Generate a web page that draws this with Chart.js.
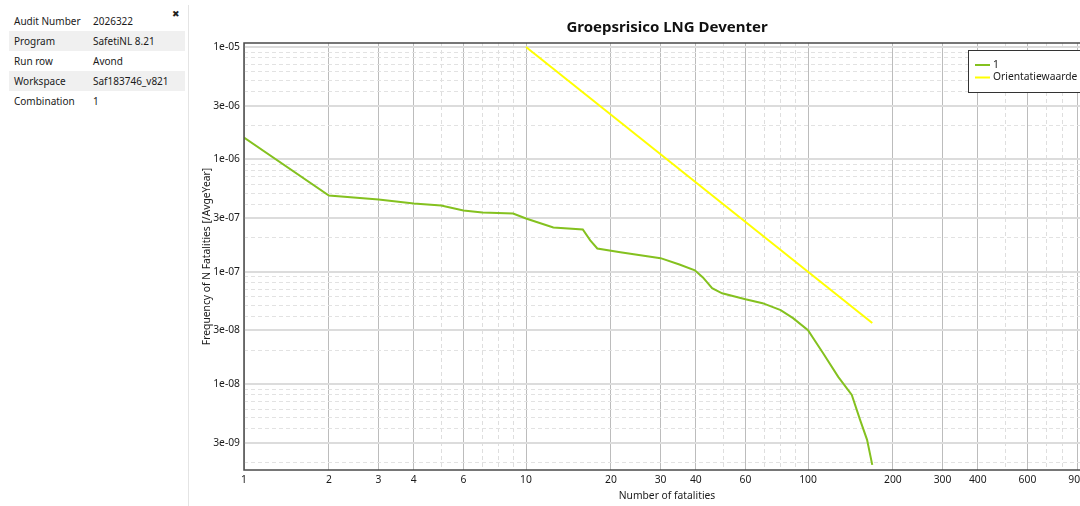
<!DOCTYPE html>
<html>
<head>
<meta charset="utf-8">
<script src="https://cdn.jsdelivr.net/npm/chart.js@4/dist/chart.umd.min.js"></script>
<style>
  html, body { margin: 0; padding: 0; width: 1080px; height: 506px; overflow: hidden; background: #fff; }
  body { position: relative; font-family: "Noto Sans", sans-serif; color: #1a1a1a; }
  #panel { position: absolute; left: 0; top: 0; width: 188px; height: 506px; font-size: 10px; }
  .row { position: absolute; left: 9px; width: 176px; height: 20px; line-height: 20px; }
  .row.alt { background: #f0f0f0; }
  .row .k { position: absolute; left: 5px; }
  .row .v { position: absolute; left: 84px; }
  #close { position: absolute; left: 172px; top: 9px; font-size: 9px; font-family: "DejaVu Sans", sans-serif; color: #222; }
  #sep { position: absolute; left: 188px; top: 5px; width: 1px; height: 501px; background: #e4e4e4; }
  #wrap { position: absolute; left: 190px; top: 0; width: 910px; height: 506px; }
</style>
</head>
<body>
<div id="panel"></div>
<div id="close">✖</div>
<div id="sep"></div>
<div id="wrap"><canvas id="frChart"></canvas></div>
<script>
// side panel info
const infoKeys = ['Audit Number', 'Program', 'Run row', 'Workspace', 'Combination'];
const infoValues = ['2026322', 'SafetiNL 8.21', 'Avond', 'Saf183746_v821', '1'];

// FN curve
const seriesLabels = ['1', 'Orientatiewaarde'];
const fatalitiesN = [1, 2, 3, 4, 5, 6, 7, 9, 10, 12.5, 15.9, 16.9, 17.9, 21.6, 30, 35, 39.7, 42.4, 45.7, 49.6,
                     60, 69, 80, 88.5, 100, 113, 128, 143, 153, 162, 169];
const frequencyN = [1.56e-6, 4.76e-7, 4.39e-7, 4.05e-7, 3.88e-7, 3.51e-7, 3.37e-7, 3.30e-7, 2.98e-7, 2.48e-7,
                    2.38e-7, 1.90e-7, 1.61e-7, 1.49e-7, 1.32e-7, 1.16e-7, 1.03e-7, 8.9e-8, 7.13e-8, 6.43e-8,
                    5.69e-8, 5.25e-8, 4.55e-8, 3.86e-8, 3.02e-8, 1.89e-8, 1.16e-8, 8.0e-9, 4.8e-9, 3.19e-9, 1.91e-9];
const orientN = [10, 169];
const orientF = [1e-5, 3.5e-8];

// ticks
const xLabelTicks = [1, 2, 3, 4, 6, 10, 20, 30, 40, 60, 100, 200, 300, 400, 600, 900];
const xMinorTicks = [5, 7, 8, 9, 50, 70, 80, 90, 500, 700, 800];
const yLabelTicks = [1e-5, 3e-6, 1e-6, 3e-7, 1e-7, 3e-8, 1e-8, 3e-9];
const yMinorTicks = [];
[-9, -8, -7, -6].forEach(function (e) {
    [2, 4, 5, 6, 7, 8, 9].forEach(function (m) { yMinorTicks.push(m * Math.pow(10, e)); });
});

const panel = document.getElementById('panel');
infoKeys.forEach(function (k, i) {
    const row = document.createElement('div');
    row.className = 'row' + (i % 2 === 1 ? ' alt' : '');
    row.style.top = (11 + i * 20) + 'px';
    row.innerHTML = '<span class="k">' + k + '</span><span class="v">' + infoValues[i] + '</span>';
    panel.appendChild(row);
});

function expLabel(v) {
    const e = Math.floor(Math.log10(v) + 1e-9);
    const m = Math.round(v / Math.pow(10, e));
    return m + 'e-' + String(-e).padStart(2, '0');
}

const font11 = { family: '"Noto Sans", sans-serif', size: 10.3 };

// frame round the plot + legend box inside it
const framePlugin = {
    id: 'frame',
    afterDraw(chart) {
        const a = chart.chartArea;
        const c = chart.ctx;
        c.save();
        c.strokeStyle = '#4a4a4a';
        c.lineWidth = 1.5;
        c.strokeRect(a.left, a.top, a.right - a.left, a.bottom - a.top);

        const bx = a.left + 724, by = a.top + 7, bw = 130, bh = 42;
        c.fillStyle = '#fff';
        c.fillRect(bx, by, bw, bh);
        c.strokeStyle = '#333';
        c.lineWidth = 1;
        c.strokeRect(bx + 0.5, by + 0.5, bw, bh);
        c.font = '10.3px "Noto Sans", sans-serif';
        c.textBaseline = 'middle';
        chart.data.datasets.forEach(function (ds, i) {
            const ly = by + 15 + i * 12.5;
            c.strokeStyle = ds.borderColor;
            c.lineWidth = 2;
            c.beginPath();
            c.moveTo(bx + 7, ly);
            c.lineTo(bx + 22, ly);
            c.stroke();
            c.fillStyle = '#1a1a1a';
            c.fillText(ds.label, bx + 25, ly);
        });
        c.restore();
    }
};

new Chart(document.getElementById('frChart'), {
    type: 'line',
    data: {
        datasets: [{
            label: seriesLabels[0],
            data: fatalitiesN.map(function (n, i) { return { x: n, y: frequencyN[i] }; }),
            borderColor: '#84c11f',
            borderWidth: 2,
            pointRadius: 0,
            tension: 0
        }, {
            label: seriesLabels[1],
            data: orientN.map(function (n, i) { return { x: n, y: orientF[i] }; }),
            borderColor: '#ffff00',
            borderWidth: 2,
            pointRadius: 0
        }]
    },
    options: {
        responsive: true,
        maintainAspectRatio: false,
        animation: false,
        layout: { padding: { left: 0, right: 10, top: 0, bottom: 0 } },
        plugins: {
            legend: { display: false },
            tooltip: { enabled: false },
            title: {
                display: true,
                text: 'Groepsrisico LNG Deventer',
                fullSize: false,
                color: '#111',
                font: { family: '"Noto Sans", sans-serif', size: 15, weight: 'bold' },
                padding: { top: 19, bottom: 6 }
            }
        },
        scales: {
            x: {
                type: 'logarithmic',
                min: 1, max: 1000,
                afterFit(s) { s.height = 36; },
                afterBuildTicks(s) { s.ticks = xLabelTicks.map(function (v) { return { value: v }; }); },
                grid: { color: '#bcbcbc', lineWidth: 1, drawTicks: false },
                border: { display: false },
                ticks: {
                    autoSkip: false, maxRotation: 0, padding: 4, color: '#1a1a1a', font: font11,
                    callback: function (v) { return String(v); }
                },
                title: { display: true, text: 'Number of fatalities', color: '#1a1a1a', font: font11, padding: { top: 0, bottom: 4 } }
            },
            x2: {
                type: 'logarithmic',
                position: 'bottom',
                min: 1, max: 1000,
                afterBuildTicks(s) { s.ticks = xMinorTicks.map(function (v) { return { value: v }; }); },
                grid: { color: '#dedede', lineWidth: 1, drawTicks: false },
                border: { display: false, dash: [4, 3] },
                ticks: { display: false }
            },
            y: {
                type: 'logarithmic',
                min: 1.72e-9, max: 1.085e-5,
                afterFit(s) { s.width = 54; },
                afterBuildTicks(s) { s.ticks = yLabelTicks.map(function (v) { return { value: v }; }); },
                grid: { color: '#dcdcdc', lineWidth: 2, drawTicks: false },
                border: { display: false },
                ticks: {
                    autoSkip: false, padding: 4, color: '#1a1a1a', font: font11,
                    callback: function (v) { return expLabel(v); }
                },
                title: { display: true, text: 'Frequency of N Fatalities [/AvgeYear]', color: '#1a1a1a', font: font11, padding: { top: 11, bottom: 0 } }
            },
            y2: {
                type: 'logarithmic',
                position: 'left',
                min: 1.72e-9, max: 1.085e-5,
                afterBuildTicks(s) { s.ticks = yMinorTicks.map(function (v) { return { value: v }; }); },
                grid: { color: '#e2e2e2', lineWidth: 1, drawTicks: false },
                border: { display: false, dash: [4, 3] },
                ticks: { display: false }
            }
        }
    },
    plugins: [framePlugin]
});
</script>
</body>
</html>
